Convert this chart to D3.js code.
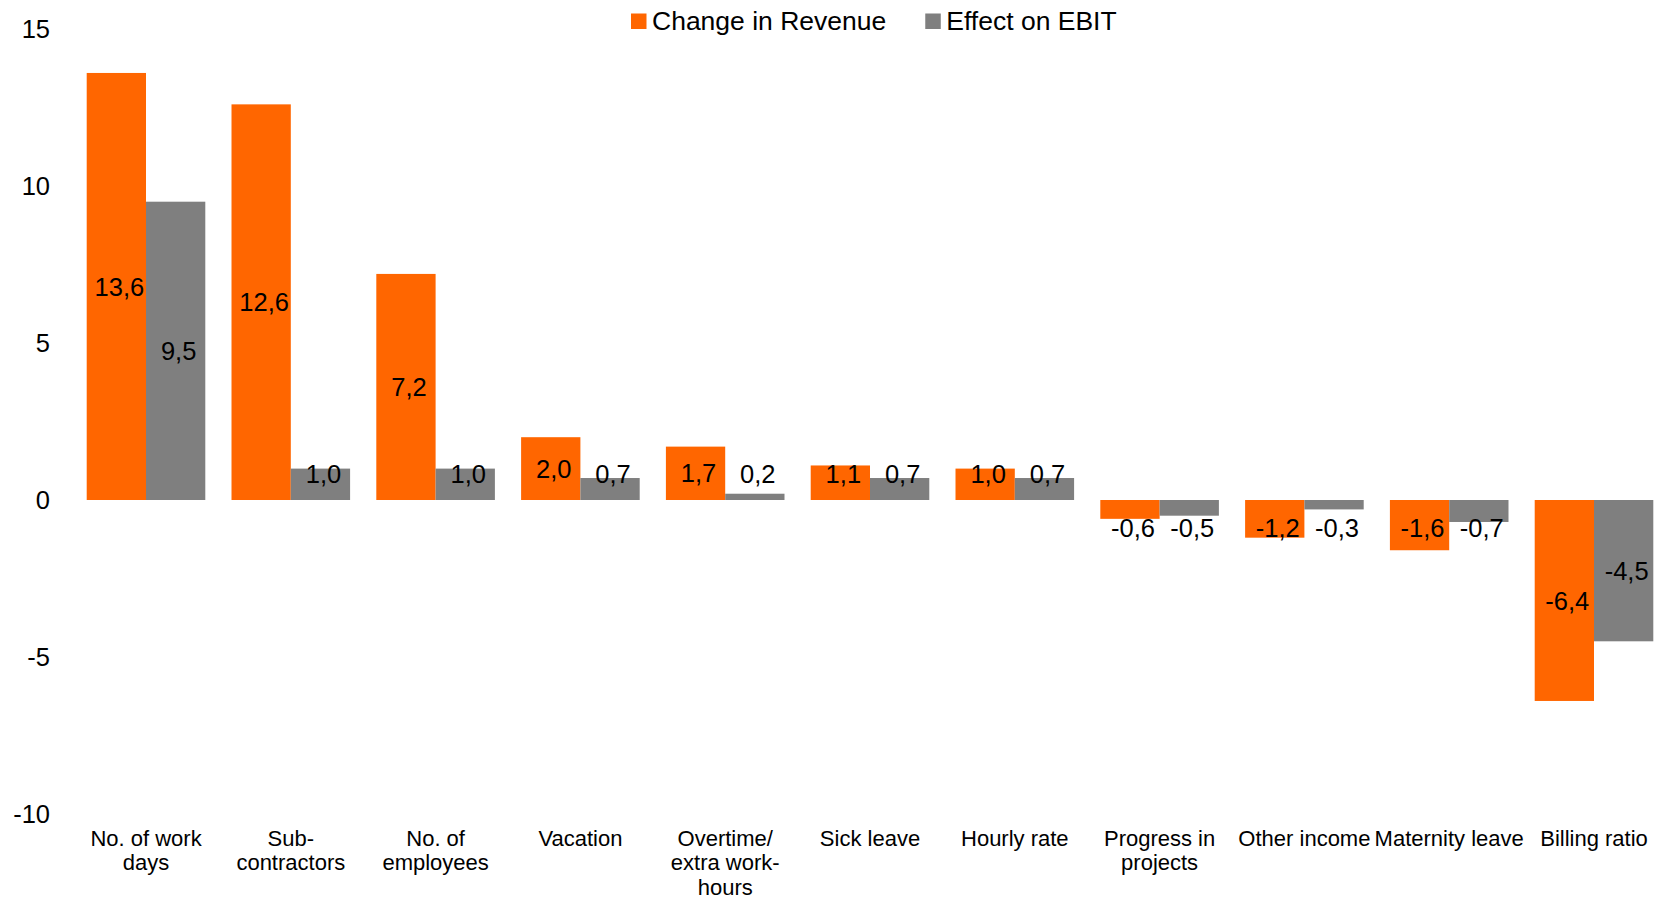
<!DOCTYPE html>
<html>
<head>
<meta charset="utf-8">
<title>Revenue and EBIT effects</title>
<script src="https://d3js.org/d3.v7.min.js"></script>
<style>
  body { margin: 0; background: #fff; }
  svg text { font-family: "Liberation Sans", Arial, sans-serif; fill: #000; }
</style>
</head>
<body>
<div id="chart"></div>
<script>
// categories, line breaks as the chart wraps them
var categories = ["No. of work\ndays", "Sub-\ncontractors", "No. of\nemployees", "Vacation",
    "Overtime/\nextra work-\nhours", "Sick leave", "Hourly rate", "Progress in\nprojects",
    "Other income", "Maternity leave", "Billing ratio"];
var seriesNames = ["Change in Revenue", "Effect on EBIT"];
var revenue = [13.6, 12.6, 7.2, 2.0, 1.7, 1.1, 1.0, -0.6, -1.2, -1.6, -6.4];
var ebit = [9.5, 1.0, 1.0, 0.7, 0.2, 0.7, 0.7, -0.5, -0.3, -0.7, -4.5];
var yTicks = [-10, -5, 0, 5, 10, 15];
var colors = ["#ff6600", "#7f7f7f"];

var W = 1660, H = 898;
var svg = d3.select("#chart").append("svg")
    .attr("width", W).attr("height", H);

var y = d3.scaleLinear().domain([-10, 15]).range([814, 29]);

var x = d3.scaleBand()
    .domain(categories)
    .range([73.6, 1666.4])
    .paddingInner(0.181)
    .paddingOuter(0.0905);

var xs = d3.scaleBand().domain([0, 1]).range([0, x.bandwidth()]);

var rows = categories.map(function(c, i) {
  return {cat: c, vals: [revenue[i], ebit[i]]};
});

// plain hyphen minus, decimal comma
var fmt = function(v) { return d3.format(".1f")(v).replace(".", ",").replace("\u2212", "-"); };

// y axis labels only
var yAxis = svg.append("g")
    .attr("transform", "translate(53,0)")
    .call(d3.axisLeft(y).tickValues(yTicks).tickSize(0).tickPadding(3)
      .tickFormat(function(d) { return String(d); }));
yAxis.select(".domain").remove();
yAxis.selectAll("text")
    .style("font-size", "25.5px")
    .style("font-family", "'Liberation Sans', Arial, sans-serif")
    .attr("fill", "#000");

// bars
var groups = svg.selectAll("g.grp")
    .data(rows).enter().append("g")
    .attr("class", "grp")
    .attr("transform", function(d) { return "translate(" + x(d.cat) + ",0)"; });

groups.selectAll("rect")
    .data(function(d) { return d.vals.map(function(v, k) { return {v: v, k: k}; }); })
    .enter().append("rect")
    .attr("x", function(d) { return xs(d.k); })
    .attr("width", xs.bandwidth())
    .attr("y", function(d) { return y(Math.max(0, d.v)); })
    .attr("height", function(d) { return Math.abs(y(d.v) - y(0)); })
    .attr("fill", function(d) { return colors[d.k]; });

// data labels: centred in bar, kept clear of the zero line
groups.selectAll("text.lbl")
    .data(function(d) { return d.vals.map(function(v, k) { return {v: v, k: k}; }); })
    .enter().append("text")
    .attr("class", "lbl")
    .attr("x", function(d) { return xs(d.k) + xs.bandwidth() / 2 + 3; })
    .attr("y", function(d) {
      var c = (y(d.v) + y(0)) / 2;
      return d.v >= 0 ? Math.min(c, y(0) - 26) : Math.max(c, y(0) + 28);
    })
    .attr("dy", "0.36em")
    .attr("text-anchor", "middle")
    .style("font-size", "25.5px")
    .text(function(d) { return fmt(d.v); });

// category labels
var xAxis = svg.append("g")
    .attr("transform", "translate(0,814)")
    .call(d3.axisBottom(x).tickSize(0));
xAxis.select(".domain").remove();
xAxis.selectAll("text").each(function(d) {
  var t = d3.select(this);
  t.text(null).attr("dy", null).attr("y", 32)
    .attr("fill", "#000")
    .style("font-size", "22px")
    .style("font-family", "'Liberation Sans', Arial, sans-serif");
  d.split("\n").forEach(function(line, i) {
    t.append("tspan").attr("x", 0).attr("dy", i ? 24.3 : 0).text(line);
  });
});

// legend
var legend = svg.append("g");
var lx = 631;
seriesNames.forEach(function(name, k) {
  legend.append("rect")
      .attr("x", lx).attr("y", 13.5)
      .attr("width", 15.5).attr("height", 15.5)
      .attr("fill", colors[k]);
  var t = legend.append("text")
      .attr("x", lx + 21).attr("y", 29.5)
      .style("font-size", "26.5px")
      .text(name);
  lx += 21 + t.node().getComputedTextLength() + 39;
});
</script>
</body>
</html>
